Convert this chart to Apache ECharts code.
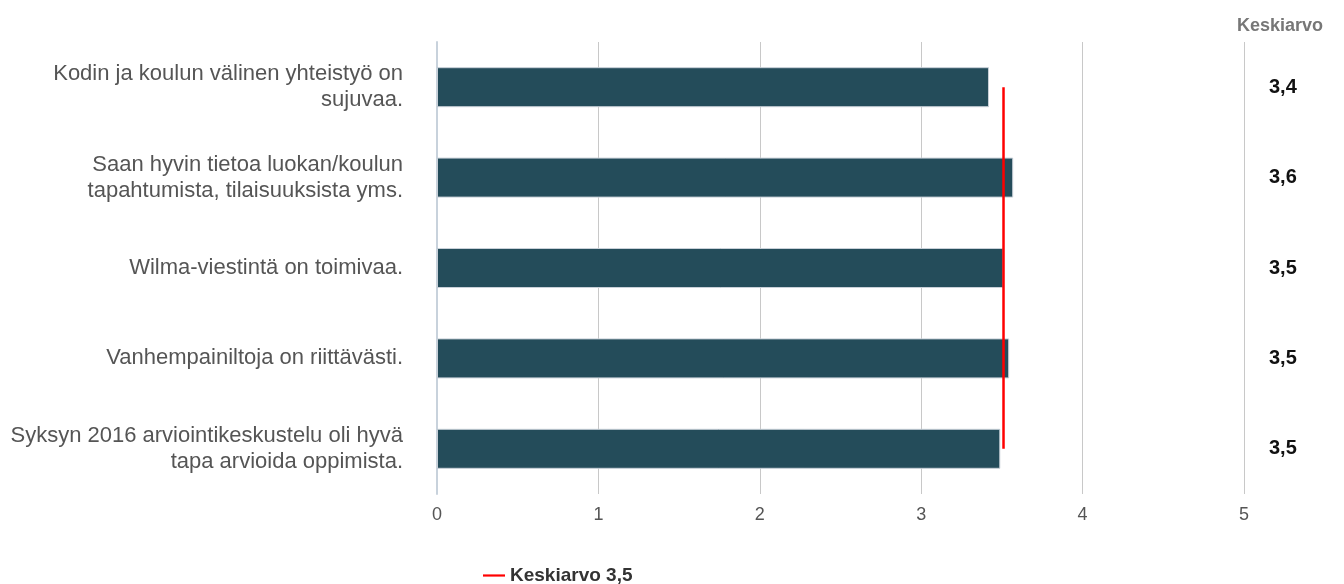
<!DOCTYPE html>
<html><head><meta charset="utf-8">
<script src="https://cdn.jsdelivr.net/npm/echarts@6/dist/echarts.min.js"></script>
<style>html,body{margin:0;padding:0;background:#fff}#c{width:1344px;height:584px}</style>
</head><body><div id="c"></div>
<script>
const categories = [
  "Kodin ja koulun välinen yhteistyö on\nsujuvaa.",
  "Saan hyvin tietoa luokan/koulun\ntapahtumista, tilaisuuksista yms.",
  "Wilma-viestintä on toimivaa.",
  "Vanhempainiltoja on riittävästi.",
  "Syksyn 2016 arviointikeskustelu oli hyvä\ntapa arvioida oppimista."
];
const values = [3.42, 3.57, 3.51, 3.545, 3.49];
const overallMean = 3.51;
const meanLabel = "Keskiarvo 3,5";
const xTicks = [0, 1, 2, 3, 4, 5];

const fmt = v => v.toFixed(1).replace('.', ',');
const chart = echarts.init(document.getElementById('c'));
chart.setOption({
  animation: false,
  textStyle: { fontFamily: 'Liberation Sans, Arial, sans-serif' },
  title: {
    text: 'Keskiarvo', right: 16, top: 12,
    textStyle: { fontSize: 18, fontWeight: 'bold', color: '#777' }
  },
  legend: {
    data: [{ name: meanLabel, icon: 'path://M0,0 L10,0 L10,1 L0,1 Z' }],
    left: 478, top: 561, itemWidth: 22, itemHeight: 3, itemGap: 4,
    textStyle: { fontSize: 19, fontWeight: 'bold', color: '#333' }
  },
  grid: { left: 437, right: 100, top: 42, bottom: 90 },
  xAxis: {
    type: 'value', min: 0, max: 5, interval: 1,
    axisLine: { show: false }, axisTick: { show: false },
    axisLabel: { fontSize: 18, color: '#555', margin: 12,
      formatter: v => String(xTicks[Math.round(v)]) },
    splitLine: { lineStyle: { color: '#c8c8c8', width: 1 } }
  },
  yAxis: [{
    type: 'category', data: categories, inverse: true,
    axisLine: { lineStyle: { color: '#c8d2dc', width: 2 } },
    axisTick: { show: false },
    axisLabel: { fontSize: 22, color: '#555', margin: 34, lineHeight: 26, align: 'right' }
  }, {
    type: 'category', data: categories, inverse: true, position: 'right',
    axisLine: { show: false }, axisTick: { show: false },
    axisLabel: {
      margin: 25, fontSize: 20, fontWeight: 'bold', color: '#111', align: 'left',
      padding: [4, 0, 0, 0],
      formatter: (v, i) => fmt(values[i])
    }
  }],
  series: [{
    type: 'bar', data: values, barWidth: 40,
    itemStyle: { color: '#244c5a', borderColor: '#c8d0d8', borderWidth: 1 },
    z: 2
  }, {
    name: meanLabel, type: 'line',
    data: categories.map(c => [overallMean, c]),
    symbol: 'none', lineStyle: { color: '#ff0000', width: 2.5 },
    itemStyle: { color: '#ff0000' }, z: 5
  }]
});
</script></body></html>
